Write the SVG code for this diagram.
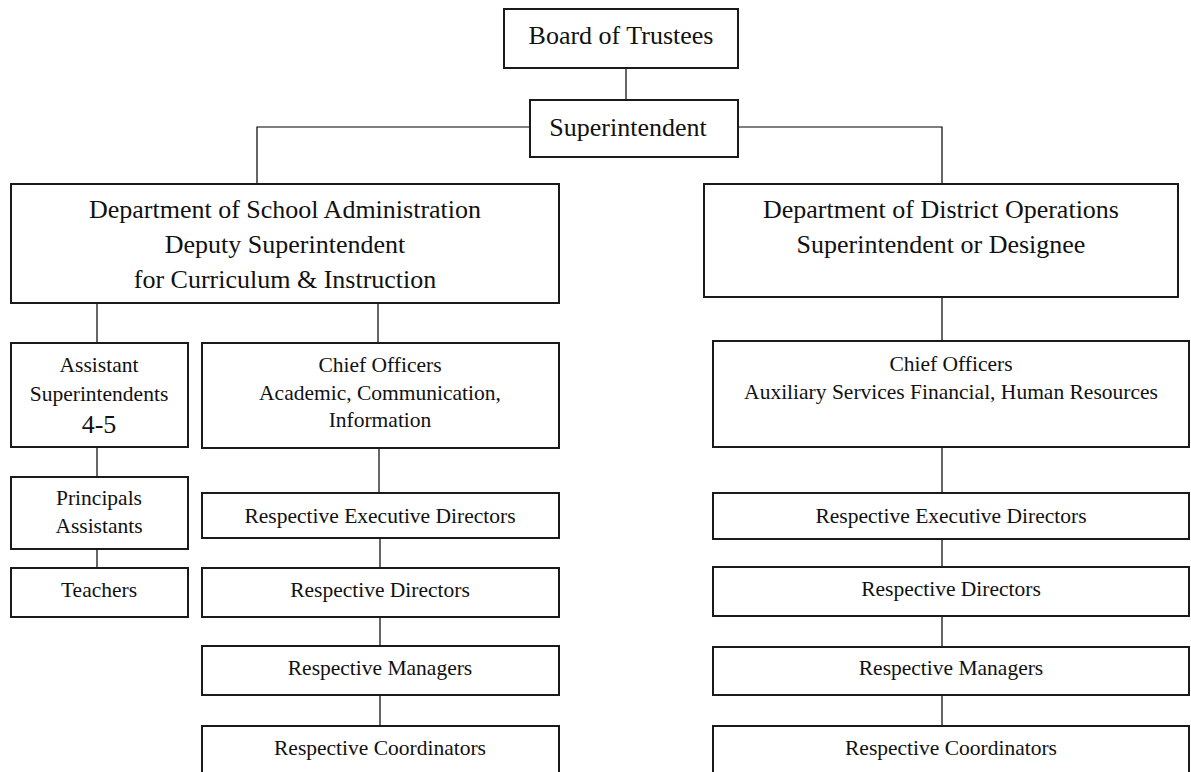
<svg xmlns="http://www.w3.org/2000/svg" width="1191" height="772" viewBox="0 0 1191 772">
<style>
.box{fill:#fff;stroke:#1a1a1a;stroke-width:2}
.c{stroke:#000;stroke-width:1.2;fill:none}
text{font-family:"Liberation Serif","Times New Roman",serif;fill:#111;text-anchor:middle}
.l{font-size:26px}
.s{font-size:21.5px}
</style>
<rect width="1191" height="772" fill="#fff"/>
<g id="connectors">
<path class="c" d="M626 68V100"/>
<path class="c" d="M530 127H257V184"/>
<path class="c" d="M738 127H942V184"/>
<path class="c" d="M97 303V343"/>
<path class="c" d="M378 303V343"/>
<path class="c" d="M97 447V477"/>
<path class="c" d="M97 549V568"/>
<path class="c" d="M379 448V493"/>
<path class="c" d="M380 538V568"/>
<path class="c" d="M380 617V646"/>
<path class="c" d="M380 695V726"/>
<path class="c" d="M942 297V341"/>
<path class="c" d="M942 447V493"/>
<path class="c" d="M942 539V567"/>
<path class="c" d="M942 616V647"/>
<path class="c" d="M942 695V726"/>
</g>
<g id="board"><rect class="box" x="504" y="9" width="234" height="59"/><text class="l" x="621" y="44">Board of Trustees</text></g>
<g id="superintendent"><rect class="box" x="530" y="100" width="208" height="57"/><text class="l" x="628" y="136">Superintendent</text></g>
<g id="dept-school"><rect class="box" x="11" y="184" width="548" height="119"/>
<text class="l" x="285" y="218">Department of School Administration</text>
<text class="l" x="285" y="253">Deputy Superintendent</text>
<text class="l" x="285" y="288">for Curriculum &amp; Instruction</text></g>
<g id="dept-district"><rect class="box" x="704" y="184" width="474" height="113"/>
<text class="l" x="941" y="218">Department of District Operations</text>
<text class="l" x="941" y="253">Superintendent or Designee</text></g>
<g id="asst-supt"><rect class="box" x="11" y="343" width="177" height="104"/>
<text class="s" x="99" y="372">Assistant</text>
<text class="s" x="99" y="401">Superintendents</text>
<text class="l" x="99" y="433">4-5</text></g>
<g id="chief-left"><rect class="box" x="202" y="343" width="357" height="105"/>
<text class="s" x="380" y="372">Chief Officers</text>
<text class="s" x="380" y="400">Academic, Communication,</text>
<text class="s" x="380" y="427">Information</text></g>
<g id="principals"><rect class="box" x="11" y="477" width="177" height="72"/>
<text class="s" x="99" y="505">Principals</text>
<text class="s" x="99" y="533">Assistants</text></g>
<g id="teachers"><rect class="box" x="11" y="568" width="177" height="49"/>
<text class="s" x="99" y="597">Teachers</text></g>
<g id="exec-left"><rect class="box" x="202" y="493" width="357" height="45"/><text class="s" x="380" y="523">Respective Executive Directors</text></g>
<g id="dir-left"><rect class="box" x="202" y="568" width="357" height="49"/><text class="s" x="380" y="597">Respective Directors</text></g>
<g id="mgr-left"><rect class="box" x="202" y="646" width="357" height="49"/><text class="s" x="380" y="675">Respective Managers</text></g>
<g id="coord-left"><rect class="box" x="202" y="726" width="357" height="60"/><text class="s" x="380" y="755">Respective Coordinators</text></g>
<g id="chief-right"><rect class="box" x="713" y="341" width="476" height="106"/>
<text class="s" x="951" y="371">Chief Officers</text>
<text class="s" x="951" y="399">Auxiliary Services Financial, Human Resources</text></g>
<g id="exec-right"><rect class="box" x="713" y="493" width="476" height="46"/><text class="s" x="951" y="523">Respective Executive Directors</text></g>
<g id="dir-right"><rect class="box" x="713" y="567" width="476" height="49"/><text class="s" x="951" y="596">Respective Directors</text></g>
<g id="mgr-right"><rect class="box" x="713" y="647" width="476" height="48"/><text class="s" x="951" y="675">Respective Managers</text></g>
<g id="coord-right"><rect class="box" x="713" y="726" width="476" height="60"/><text class="s" x="951" y="755">Respective Coordinators</text></g>
</svg>
